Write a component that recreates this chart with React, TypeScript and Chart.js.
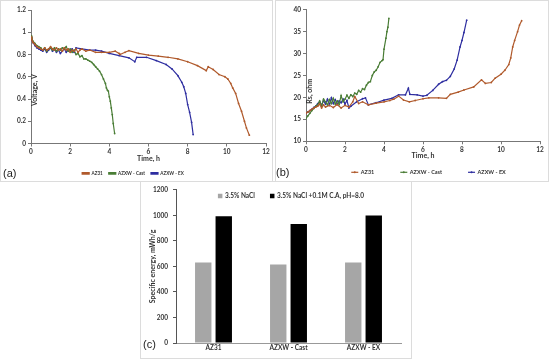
import React, { useEffect, useRef } from "react";
import { Chart, registerables } from "chart.js";

Chart.register(...registerables);

// ---------- data ----------
const seriesNames = ["AZ31", "AZXW - Cast", "AZXW - EX"];

// (a) Voltage vs time
const tA_AZ31 = [0, 0.05, 0.1, 0.2, 0.3, 0.4, 0.5, 0.6, 0.7, 0.8, 0.9, 1.0, 1.1, 1.2, 1.3, 1.4, 1.5, 1.6, 1.7, 1.8, 1.9, 2.0, 2.1, 2.2, 2.3, 2.4, 2.5, 2.6, 2.8, 3.0, 3.3, 3.6, 4.0, 4.3, 4.5, 4.55, 4.8, 5.0, 5.5, 6.0, 6.5, 7.0, 7.5, 8.0, 8.5, 8.95, 9.05, 9.3, 9.6, 9.9, 10.05, 10.2, 10.3, 10.45, 10.6, 10.75, 10.9, 11.0, 11.15];
const vA_AZ31 = [0.96, 0.93, 0.91, 0.89, 0.87, 0.86, 0.85, 0.84, 0.86, 0.84, 0.85, 0.87, 0.85, 0.84, 0.86, 0.84, 0.85, 0.83, 0.86, 0.84, 0.85, 0.82, 0.84, 0.83, 0.85, 0.82, 0.84, 0.85, 0.83, 0.84, 0.82, 0.82, 0.82, 0.83, 0.81, 0.80, 0.82, 0.835, 0.81, 0.795, 0.785, 0.775, 0.76, 0.735, 0.70, 0.655, 0.69, 0.665, 0.62, 0.60, 0.58, 0.54, 0.50, 0.45, 0.36, 0.29, 0.20, 0.14, 0.075];

const tA_Cast = [0, 0.05, 0.1, 0.2, 0.3, 0.4, 0.5, 0.6, 0.7, 0.8, 0.9, 1.0, 1.1, 1.2, 1.3, 1.4, 1.5, 1.6, 1.7, 1.8, 1.9, 2.0, 2.1, 2.2, 2.3, 2.4, 2.5, 2.6, 2.7, 2.8, 2.9, 3.0, 3.1, 3.2, 3.3, 3.4, 3.5, 3.6, 3.7, 3.8, 3.85, 3.9, 3.95, 4.0, 4.05, 4.1, 4.15, 4.2, 4.27];
const vA_Cast = [0.97, 0.94, 0.92, 0.90, 0.88, 0.87, 0.86, 0.84, 0.86, 0.83, 0.85, 0.86, 0.84, 0.86, 0.83, 0.85, 0.84, 0.86, 0.85, 0.87, 0.83, 0.85, 0.82, 0.84, 0.80, 0.81, 0.78, 0.79, 0.76, 0.76, 0.75, 0.74, 0.73, 0.71, 0.69, 0.67, 0.65, 0.62, 0.58, 0.54, 0.50, 0.48, 0.47, 0.42, 0.38, 0.32, 0.26, 0.18, 0.09];

const tA_EX = [0, 0.05, 0.1, 0.2, 0.3, 0.4, 0.5, 0.6, 0.7, 0.8, 0.9, 1.0, 1.1, 1.2, 1.3, 1.4, 1.5, 1.6, 1.7, 1.8, 1.9, 2.0, 2.1, 2.2, 2.3, 2.6, 3.0, 3.3, 3.6, 4.0, 4.5, 5.0, 5.3, 5.4, 5.9, 6.4, 6.9, 7.2, 7.5, 7.7, 7.8, 7.9, 8.0, 8.1, 8.2, 8.28];
const vA_EX = [0.96, 0.93, 0.91, 0.88, 0.86, 0.85, 0.84, 0.83, 0.85, 0.82, 0.84, 0.86, 0.83, 0.85, 0.82, 0.84, 0.81, 0.83, 0.85, 0.82, 0.84, 0.83, 0.85, 0.82, 0.86, 0.85, 0.84, 0.84, 0.83, 0.81, 0.79, 0.77, 0.735, 0.775, 0.775, 0.745, 0.71, 0.67, 0.61, 0.55, 0.51, 0.45, 0.35, 0.28, 0.19, 0.08];

// (b) Rs vs time
const tB_AZ31 = [0, 0.1, 0.2, 0.3, 0.4, 0.5, 0.6, 0.7, 0.8, 0.9, 1.0, 1.2, 1.4, 1.6, 1.8, 2.0, 2.2, 2.4, 2.5, 2.7, 2.9, 3.2, 3.6, 4.0, 4.3, 4.5, 4.75, 5.0, 5.3, 5.6, 6.0, 6.3, 6.8, 7.2, 7.4, 7.8, 8.1, 8.6, 9.0, 9.2, 9.5, 9.7, 10.0, 10.2, 10.4, 10.5, 10.6, 10.7, 10.85, 10.95, 11.06];
const rB_AZ31 = [16.4, 16.7, 17.0, 17.3, 17.6, 17.8, 18.0, 18.5, 17.6, 18.3, 17.8, 18.2, 17.7, 18.4, 17.6, 18.2, 17.8, 19.0, 20.2, 18.6, 19.0, 18.3, 18.7, 19.0, 19.3, 19.6, 20.3, 19.4, 19.0, 19.3, 19.7, 19.9, 19.9, 19.8, 20.7, 21.2, 21.7, 22.4, 24.0, 23.2, 23.4, 24.4, 25.3, 26.2, 27.5, 29.0, 31.5, 33.0, 35.0, 36.5, 37.5];

const tB_Cast = [0, 0.1, 0.2, 0.3, 0.4, 0.5, 0.6, 0.7, 0.8, 0.9, 1.0, 1.1, 1.2, 1.3, 1.4, 1.5, 1.6, 1.7, 1.8, 1.9, 2.0, 2.1, 2.2, 2.3, 2.4, 2.5, 2.6, 2.7, 2.8, 2.9, 3.0, 3.1, 3.2, 3.3, 3.4, 3.5, 3.6, 3.7, 3.8, 3.9, 3.95, 4.0, 4.1, 4.15, 4.2, 4.25];
const rB_Cast = [15.2, 15.8, 16.4, 17.0, 17.5, 18.0, 18.3, 19.2, 18.0, 19.6, 19.0, 18.3, 19.5, 18.6, 19.8, 18.5, 19.2, 18.4, 20.4, 19.0, 19.6, 20.5, 19.8, 20.6, 20.2, 21.0, 20.7, 21.6, 21.2, 22.0, 21.8, 22.8, 23.4, 23.6, 25.0, 25.8, 26.2, 27.0, 28.0, 28.4, 28.6, 31.0, 33.5, 35.0, 36.0, 38.0];

const tB_EX = [0, 0.1, 0.2, 0.3, 0.4, 0.5, 0.6, 0.7, 0.8, 0.9, 1.0, 1.1, 1.2, 1.3, 1.4, 1.5, 1.6, 1.7, 1.8, 1.9, 2.0, 2.1, 2.2, 2.3, 2.6, 2.9, 3.05, 3.2, 3.6, 4.0, 4.4, 4.75, 5.1, 5.25, 5.33, 5.7, 6.0, 6.2, 6.5, 6.8, 7.0, 7.2, 7.4, 7.6, 7.75, 7.9, 8.0, 8.1, 8.24];
const rB_EX = [16.4, 16.7, 17.0, 17.3, 17.7, 18.0, 18.6, 19.0, 18.2, 19.3, 18.5, 19.6, 18.3, 19.9, 18.6, 19.5, 18.4, 19.2, 18.8, 19.6, 18.5, 19.3, 17.6, 18.0, 19.0, 19.7, 19.9, 18.3, 18.8, 19.4, 19.8, 20.6, 20.6, 22.1, 20.7, 20.6, 20.3, 20.5, 21.6, 23.0, 23.6, 23.9, 24.8, 26.5, 28.5, 31.5, 33.0, 34.8, 37.6];

// (c) Specific energy
const energyCategories = ["AZ31", "AZXW - Cast", "AZXW - EX"];
const energyLabels = ["3.5% NaCl", "3.5% NaCl +0.1M C.A, pH=8.0"];
const energyNaCl = [630, 615, 630];
const energyCA = [993, 932, 999];

// ---------- styling ----------
const FONT = "Lato, 'Open Sans', 'DejaVu Sans', sans-serif";
const TXT = "#333333";
const AXIS = "#777777";
const lineColors = ["#B05A2C", "#4A7D36", "#2E2EA0"];
const barColors = ["#A6A6A6", "#000000"];

const tickFont = { family: FONT, size: 6.5, weight: "bold" as const };
const titleFont = { family: FONT, size: 7, weight: "bold" as const };
const legendFontA = { family: FONT, size: 4.6, weight: "bold" as const };

const zip = (t: number[], v: number[]) => t.map((x, i) => ({ x, y: v[i] }));

function lineDataset(label: string, t: number[], v: number[], color: string) {
  return {
    label,
    data: zip(t, v),
    borderColor: color,
    backgroundColor: color,
    borderWidth: 1.2,
    pointRadius: 0.9,
    pointBorderWidth: 0,
    pointBackgroundColor: color,
    tension: 0,
  };
}

function insideYTitle(text: string, dx: number, frac: number) {
  return {
    id: "insideYTitle",
    afterDraw(chart: any) {
      const { ctx, chartArea } = chart;
      ctx.save();
      ctx.translate(chartArea.left + dx, chartArea.top + frac * (chartArea.bottom - chartArea.top));
      ctx.rotate(-Math.PI / 2);
      ctx.font = `bold 7px ${FONT}`;
      ctx.fillStyle = TXT;
      ctx.textAlign = "center";
      ctx.textBaseline = "middle";
      ctx.fillText(text, 0, 0);
      ctx.restore();
    },
  };
}

// Horizontal legend drawn from the chart's own datasets at a fixed spot
function inlineLegend(cfg: { cx: number; cy: number; gap: number; boxW: number; boxH: number; textGap: number; size: number; marker: "line" | "square" }) {
  return {
    id: "inlineLegend",
    afterDraw(chart: any) {
      const { ctx } = chart;
      const items = chart.data.datasets.map((ds: any) => ({ text: ds.label as string, color: (ds.borderColor || ds.backgroundColor) as string }));
      ctx.save();
      ctx.font = `bold ${cfg.size}px ${FONT}`;
      const widths = items.map((it: any) => cfg.boxW + cfg.textGap + ctx.measureText(it.text).width);
      const total = widths.reduce((a: number, b: number) => a + b, 0) + cfg.gap * (items.length - 1);
      let x = cfg.cx - total / 2;
      items.forEach((it: any, i: number) => {
        ctx.fillStyle = it.color;
        ctx.strokeStyle = it.color;
        if (cfg.marker === "line") {
          ctx.lineWidth = 1.2;
          ctx.beginPath();
          ctx.moveTo(x, cfg.cy);
          ctx.lineTo(x + cfg.boxW, cfg.cy);
          ctx.stroke();
          ctx.beginPath();
          ctx.arc(x + cfg.boxW / 2, cfg.cy, 1, 0, Math.PI * 2);
          ctx.fill();
        } else {
          ctx.fillRect(x, cfg.cy - cfg.boxH / 2, cfg.boxW, cfg.boxH);
        }
        ctx.fillStyle = TXT;
        ctx.textAlign = "left";
        ctx.textBaseline = "middle";
        ctx.fillText(it.text, x + cfg.boxW + cfg.textGap, cfg.cy);
        x += widths[i] + cfg.gap;
      });
      ctx.restore();
    },
  };
}

function timeScales(o: { yMin: number; yMax: number; yStep: number; xHeight: number; xTitlePadBottom: number; yFormat: (v: number) => string }) {
  return {
    x: {
      type: "linear",
      min: 0,
      max: 12,
      ticks: { stepSize: 2, font: tickFont, color: TXT, padding: 2, maxRotation: 0 },
      grid: { drawOnChartArea: false, tickLength: 3, color: AXIS },
      border: { color: AXIS, width: 1 },
      title: { display: true, text: "Time, h", font: titleFont, color: TXT, padding: { top: 0, bottom: o.xTitlePadBottom } },
      afterFit: (s: any) => { s.height = o.xHeight; },
    },
    y: {
      min: o.yMin,
      max: o.yMax,
      ticks: { stepSize: o.yStep, font: tickFont, color: TXT, padding: 2, callback: (v: any) => o.yFormat(Number(v)) },
      grid: { drawOnChartArea: false, tickLength: 3, color: AXIS },
      border: { color: AXIS, width: 1 },
      afterFit: (s: any) => { s.width = 31; },
    },
  };
}

function makeA() {
  return {
    type: "line",
    data: {
      datasets: [
        lineDataset(seriesNames[0], tA_AZ31, vA_AZ31, lineColors[0]),
        lineDataset(seriesNames[1], tA_Cast, vA_Cast, lineColors[1]),
        lineDataset(seriesNames[2], tA_EX, vA_EX, lineColors[2]),
      ],
    },
    options: {
      animation: false,
      responsive: false,
      devicePixelRatio: 1,
      layout: { padding: { left: 0, right: 6, top: 10, bottom: 1.4 } },
      scales: timeScales({ yMin: 0, yMax: 1.2, yStep: 0.2, xHeight: 21.5, xTitlePadBottom: 2.3, yFormat: (v) => String(Math.round(v * 10) / 10) }),
      plugins: {
        legend: {
          position: "bottom",
          labels: { font: legendFontA, color: TXT, boxWidth: 7, boxHeight: 1.5, padding: 6 },
        },
        tooltip: { enabled: false },
      },
    },
    plugins: [insideYTitle("Voltage, V", 4, 0.6)],
  };
}

function makeB() {
  return {
    type: "line",
    data: {
      datasets: [
        lineDataset(seriesNames[0], tB_AZ31, rB_AZ31, lineColors[0]),
        lineDataset(seriesNames[1], tB_Cast, rB_Cast, lineColors[1]),
        lineDataset(seriesNames[2], tB_EX, rB_EX, lineColors[2]),
      ],
    },
    options: {
      animation: false,
      responsive: false,
      devicePixelRatio: 1,
      layout: { padding: { left: 0, right: 8, top: 9.7, bottom: 26.1 } },
      scales: timeScales({ yMin: 10, yMax: 40, yStep: 5, xHeight: 18.6, xTitlePadBottom: 0, yFormat: (v) => String(Math.round(v)) }),
      plugins: {
        legend: { display: false },
        tooltip: { enabled: false },
      },
    },
    plugins: [
      insideYTitle("Rs, ohm", 4, 0.62),
      inlineLegend({ cx: 153.5, cy: 172.3, gap: 26, boxW: 7, boxH: 1.5, textGap: 2.5, size: 5.5, marker: "line" }),
    ],
  };
}

function makeC() {
  return {
    type: "bar",
    data: {
      labels: energyCategories,
      datasets: [
        { label: energyLabels[0], data: energyNaCl, backgroundColor: barColors[0], borderWidth: 0 },
        { label: energyLabels[1], data: energyCA, backgroundColor: barColors[1], borderWidth: 0 },
      ],
    },
    options: {
      animation: false,
      responsive: false,
      devicePixelRatio: 1,
      datasets: { bar: { categoryPercentage: 0.547, barPercentage: 0.8 } },
      layout: { padding: { left: 0, right: 11, top: 5, bottom: 6 } },
      scales: {
        x: {
          ticks: { font: tickFont, color: TXT, padding: 1, maxRotation: 0 },
          grid: { display: true, drawOnChartArea: false, drawTicks: false, color: "#999999" },
          border: { color: "#999999", width: 1 },
          afterFit: (s: any) => { s.height = 10; },
        },
        y: {
          min: 0,
          max: 1200,
          ticks: { stepSize: 200, font: tickFont, color: TXT, padding: 5, callback: (v: any) => String(Math.round(Number(v))) },
          grid: { drawOnChartArea: false, tickLength: 3, color: "#555555" },
          border: { color: "#555555", width: 1 },
          title: { display: true, text: "Specific energy, mWh/g", font: titleFont, color: TXT, padding: { top: 8.8, bottom: 0 } },
          afterFit: (s: any) => { s.width = 36; },
        },
      },
      plugins: {
        legend: { display: false },
        tooltip: { enabled: false },
      },
    },
    plugins: [inlineLegend({ cx: 151, cy: 15, gap: 15, boxW: 4.5, boxH: 4.5, textGap: 2.5, size: 6.5, marker: "square" })],
  };
}

function ChartCanvas({ make, left, top, width, height }: { make: () => any; left: number; top: number; width: number; height: number }) {
  const ref = useRef<HTMLCanvasElement | null>(null);
  useEffect(() => {
    if (!ref.current) return;
    const chart = new Chart(ref.current, make());
    return () => chart.destroy();
  }, []);
  return (
    <canvas
      ref={ref}
      width={width}
      height={height}
      style={{ position: "absolute", left, top, width, height }}
    />
  );
}

const frame = (left: number, top: number, width: number, height: number): React.CSSProperties => ({
  position: "absolute",
  left,
  top,
  width,
  height,
  border: "1px solid #dcdcdc",
  boxSizing: "border-box",
});

const panelLabel = (left: number, top: number): React.CSSProperties => ({
  position: "absolute",
  left,
  top,
  fontFamily: "'Liberation Sans', Arial, sans-serif",
  fontSize: 11,
  lineHeight: "12px",
  color: "#222",
});

export default function App() {
  return (
    <div style={{ position: "absolute", left: 0, top: 0, width: 550, height: 361, background: "#ffffff", overflow: "hidden" }}>
      <div style={frame(0, 0, 273, 182)} />
      <div style={frame(275, 0, 274, 182)} />
      <div style={frame(140, 181, 272, 178)} />
      <ChartCanvas make={makeA} left={0} top={0} width={272} height={187} />
      <ChartCanvas make={makeB} left={275} top={0} width={273} height={186} />
      <ChartCanvas make={makeC} left={140} top={181} width={272} height={178} />
      <div style={panelLabel(3, 167)}>(a)</div>
      <div style={panelLabel(276, 166)}>(b)</div>
      <div style={panelLabel(143, 338)}>(c)</div>
    </div>
  );
}
